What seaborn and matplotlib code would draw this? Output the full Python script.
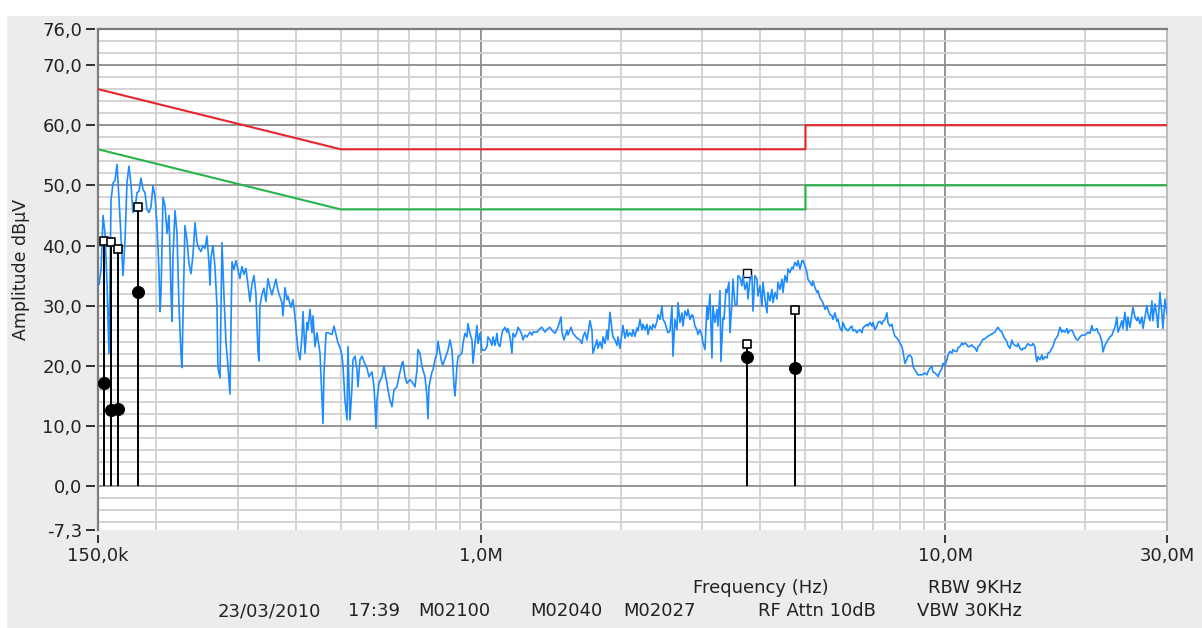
import numpy as np
import matplotlib
matplotlib.use("Agg")
import matplotlib.pyplot as plt
import matplotlib.ticker as mticker
from matplotlib.patches import Rectangle
import seaborn as sns

# Scan trace (frequency in kHz, level in dBuV)
trace_khz_low = [
    150.7, 152.3, 153.8, 155.3, 156.8, 158.4, 160.0, 161.6, 163.2, 164.8,
    166.4, 168.1, 169.8, 171.5, 173.2, 174.9, 176.7, 178.4, 180.2, 182.0,
    183.8, 185.6, 187.5, 189.3, 191.2, 193.1, 195.1, 197.0, 199.0, 200.9,
    202.9, 204.0, 205.0, 207.0, 209.1, 211.2, 213.3, 215.4, 216.5, 217.5,
    219.7, 221.9, 224.1, 226.3, 227.4, 228.6, 230.8, 233.1, 235.5, 237.8,
    240.2, 242.6, 245.0, 247.4, 249.9, 252.4, 254.9, 257.4, 260.0, 261.3,
    262.6, 265.2, 267.8, 270.5, 271.8, 274.6, 277.3, 280.1, 282.8, 285.6,
    288.5, 291.4, 294.2, 297.2, 300.1, 303.1, 306.1, 309.2, 312.2, 315.4,
    318.5, 321.7, 324.9, 328.1, 331.4, 333.0, 334.7, 338.0, 341.4, 344.8,
    348.2, 351.7, 355.1,
    362.3, 366.0, 373.3, 375.1, 378.9, 382.6, 384.5, 390.3, 394.2, 398.1,
    402.1, 404.2, 408.2, 412.3, 414.3, 418.5, 422.6, 424.7, 429.0, 433.2,
    435.4, 439.7, 444.1, 450.8, 455.3, 457.5, 459.8, 464.4, 469.0, 478.4,
    483.1, 488.0, 492.8, 497.7, 502.7, 505.2, 510.2, 515.3, 517.8, 523.0,
    528.2, 530.8, 536.1, 541.4, 544.1, 549.5, 555.0, 560.5, 568.9, 574.6,
    583.2, 589.0, 591.9, 594.9, 597.8, 603.8, 612.8, 618.9, 628.2, 631.3,
    637.6, 644.0, 650.4, 660.1, 666.7, 676.7, 680.0, 686.8, 693.7, 704.0,
    714.6, 721.7, 728.9, 732.5, 739.8, 747.2, 750.9, 758.4, 765.9, 769.7,
    773.6, 785.1, 789.0, 796.9, 804.8, 808.8, 816.9, 825.0, 829.1, 845.7,
]
trace_db_low = [
    33.5, 36, 45, 42, 34, 22, 47.5, 50.4, 50.8, 53.5,
    48, 41.5, 35, 41, 50.5, 53.2, 50, 45.5, 46, 48.8,
    49, 51.2, 49.3, 48.8, 46, 45.5, 46.5, 49.9, 48.2, 43.5,
    36, 29, 32, 48, 46.6, 42, 45, 32, 27.4, 38,
    45.8, 42, 30, 22, 19.7, 28, 43.3, 41, 37, 35.3,
    38.5, 43.8, 40.5, 39.5, 39, 40, 39.5, 41.6, 37, 33.4,
    38, 40, 36.5, 30, 19.7, 18, 40.5, 31.5, 24, 20,
    15.3, 37.3, 36, 37.5, 36, 34.5, 36.5, 35.2, 36.2, 33.5,
    30.7, 33.5, 35, 32, 22.5, 20.8, 30, 31.8, 32.9, 30.7,
    34.5, 33, 31.8,
    34.4, 32.5, 30.5, 28.3, 33, 31, 31.6, 29.7, 31, 28.3,
    24.4, 22.7, 21, 24.9, 29, 22.1, 27.2, 26, 29.4, 25.5,
    28.3, 23.2, 25.5, 22.1, 14.3, 10.4, 18.8, 25.5, 25.5, 25.2,
    26.6, 25.2, 23.8, 23, 21.6, 19.9, 14.3, 11, 23.2, 11,
    16.5, 21, 21.6, 19.3, 16.5, 21, 21.6, 20.7, 19.6, 18.2,
    19, 16.5, 13.7, 9.6, 14.3, 17.1, 18.2, 19.9, 17.1, 16,
    14.3, 13.2, 16, 16.5, 18.2, 20.4, 20.7, 18.2, 17.1, 17.7,
    17.1, 16.5, 19.3, 22.7, 22.1, 19.9, 19.3, 18.2, 14.9, 11.2,
    16.5, 19, 19.3, 21, 22.1, 24.1, 22.1, 20.4, 20.2, 22.1,
]

trace_khz_mid = [
    850.0, 858.5, 867.0, 871.3, 875.7, 880.0, 888.8, 893.2, 911.1, 915.6,
    924.7, 933.9, 938.6, 947.9, 957.3, 962.1, 971.7, 981.4, 986.2, 996.1,
    1006.0, 1021.1, 1031.2, 1036.3, 1046.7, 1057.1, 1062.3, 1072.9, 1083.6, 1089.0,
    1099.8, 1110.8, 1116.3, 1127.4, 1138.7, 1144.3, 1155.7, 1167.2, 1173.0, 1184.7,
    1196.5, 1202.5, 1214.4, 1226.5, 1232.6, 1244.9, 1257.3, 1276.1, 1288.8, 1295.2,
    1321.2, 1341.0, 1354.3, 1374.6, 1395.3, 1409.2, 1423.2, 1444.5, 1466.2, 1488.1,
    1495.5, 1510.4, 1533.1, 1540.7, 1563.7, 1579.3, 1603.0, 1618.9, 1635.1, 1651.3,
    1659.5, 1676.1, 1692.8, 1701.2, 1718.1, 1735.2, 1743.9, 1761.2, 1778.8, 1787.7,
    1805.5, 1823.5, 1832.5, 1850.8, 1869.2, 1878.5, 1897.2, 1916.1, 1925.6, 1944.8,
    1964.2, 1974.0, 1993.6, 2013.5, 2023.5,
    2043.6, 2064.0, 2074.2, 2094.9, 2115.8, 2126.3, 2147.5, 2168.9, 2179.6, 2201.3,
    2223.2, 2234.3, 2256.5, 2279.0, 2290.4, 2313.2, 2336.3, 2347.8, 2371.2, 2394.8,
    2406.7, 2430.7, 2454.9, 2467.1, 2491.7, 2516.5, 2529.0, 2554.2, 2579.6, 2592.5,
    2618.3, 2644.4, 2657.5, 2684.0, 2710.7, 2724.2, 2751.3, 2778.7, 2792.5, 2820.3,
    2848.4, 2862.5, 2891.0, 2919.9, 2934.4, 2963.6, 2993.1, 3008.0, 3038.0, 3068.2,
    3083.5, 3114.2, 3145.2, 3160.8, 3192.3, 3224.1, 3240.1, 3272.4, 3288.6, 3321.4,
    3337.9, 3371.2, 3387.9, 3421.7, 3438.7, 3472.9, 3490.2, 3524.9, 3560.0, 3577.7,
    3613.4, 3649.4, 3667.4, 3704.0, 3740.9, 3759.6, 3797.0, 3834.9, 3853.9, 3892.3,
    3931.1, 3950.6, 3990.0, 4029.7, 4049.7, 4090.1, 4130.8, 4151.3, 4192.7, 4234.4,
    4255.5, 4297.9, 4340.7, 4362.2, 4405.6, 4449.5, 4471.6, 4516.2, 4561.2, 4583.8,
    4629.5, 4675.6, 4698.8, 4745.6, 4792.9, 4816.8,
]
trace_db_mid = [
    22.6, 24.3, 22.6, 19.9, 16.6, 15, 19.9, 21.5, 22.1, 23.7,
    25.4, 24.8, 27, 25.4, 24.3, 20.4, 23.7, 26.7, 23.7, 25.4,
    22.6, 22.6, 23.2, 24.8, 24.3, 23.4, 24.8, 23.4, 25.4, 23.7,
    23.2, 25.4, 25.9, 26.4, 25.6, 26.2, 24.8, 22.1, 25.4, 24.8,
    25.6, 26.4, 25.9, 25.1, 24.3, 25.1, 24.8, 25.6, 25.1, 25.6,
    25.6, 26.2, 26.4, 25.6, 26.2, 26.4, 25.9, 25.4, 26.4, 28.1,
    25.6, 24.3, 25.9, 25.1, 26.4, 25.4, 24.8, 24.5, 24.3, 23.7,
    24.8, 25.6, 24.3, 25.4, 27.5, 25.9, 22.1, 23.2, 24.3, 22.9,
    24, 22.9, 24.8, 23.7, 25.9, 24.3, 28.9, 25.9, 24.8, 24.3,
    23.4, 24.8, 22.9, 25.4, 26.7,
    24.6, 26, 24.9, 25.5, 24.9, 26, 24.9, 26.3, 25.8, 27.7,
    26, 26.9, 26, 26.9, 25.2, 26.6, 26, 26.9, 26.3, 27.4,
    28.5, 27.7, 29.9, 27.7, 27.2, 26, 25.5, 25.8, 29.9, 21.6,
    27.7, 26, 30.5, 27.2, 28.8, 26.6, 29.1, 28.3, 29.4, 27.7,
    28.5, 28.3, 26.6, 26, 25.2, 26, 24.9, 23.8, 22.7, 29.9,
    27.7, 31.9, 21.3, 29.9, 27.2, 29.4, 26.6, 32.5, 20.7, 28,
    27.7, 32.7, 32.2, 33.9, 25.5, 30.5, 34.4, 30.2, 30.2, 35,
    34.7, 33.3, 35, 32.7, 33.9, 31.1, 34.4, 35, 29.1, 35,
    34.4, 31.6, 33.3, 29.9, 33.9, 31.1, 28.8, 32.2, 30.8, 32.7,
    30.5, 32.2, 31.1, 33.9, 32.7, 34.4, 32.2, 35, 33.9, 36.1,
    35.5, 36.4, 36.1, 37.2, 36.6, 37.5,
]

trace_khz_high = [
    4864.7, 4913.2, 4937.6, 4986.8, 5036.5, 5061.5, 5111.9, 5162.8, 5188.5, 5240.1,
    5292.4, 5318.6, 5371.6, 5425.1, 5452.1, 5506.4, 5561.2, 5588.8, 5644.5, 5700.8,
    5729.1, 5786.1, 5843.7, 5872.8, 5931.3, 5990.4, 6020.1, 6080.0, 6140.6, 6171.3,
    6232.8, 6294.8, 6326.1, 6389.2, 6452.8, 6484.9, 6549.5, 6614.7, 6647.5, 6713.7,
    6780.6, 6814.3, 6882.2, 6950.7, 6985.3, 7054.8, 7125.1, 7160.4, 7231.8, 7303.8,
    7340.1, 7413.2, 7487.0, 7524.3, 7599.2, 7674.9, 7713.0, 7789.8, 7867.4, 7906.5,
    7985.3, 8064.7, 8104.8, 8185.6, 8267.0, 8308.1, 8390.9, 8474.5, 8516.5, 8601.4,
    8687.1, 8730.3, 8904.9, 9038.4, 9128.5, 9173.8, 9265.1, 9357.4, 9403.9, 9497.6,
    9592.4, 9640.0, 9736.0, 9833.0, 9881.8, 9980.2, 10079, 10130, 10231, 10333,
    10384, 10488, 10592, 10645, 10751, 10858, 10912, 11020, 11130, 11185,
    11297, 11409, 11466, 11580, 11696, 11754, 11871, 11989, 12049,
    12169, 12290, 12474, 12661, 12787, 12914, 12979, 13108, 13239, 13305,
    13437, 13571, 13638, 13774, 13911, 13980, 14120, 14260, 14331, 14474,
    14618, 14691, 14837, 14985, 15059, 15209, 15361, 15437, 15591, 15668,
    15746, 15825, 15982, 16141, 16221, 16383, 16546, 16628, 16794, 16961,
    17045, 17215, 17386, 17473, 17647, 17822, 17911, 18089, 18270, 18360,
    18543, 18728, 18821, 19009, 19198, 19293, 19485, 19679, 19777, 19974,
    20173, 20273, 20475, 20679, 20782, 20989, 21198, 21305, 21517, 21732,
    21839, 22057, 22277, 22387, 22610, 22836, 22949, 23178, 23408, 23525,
    23759, 23996, 24115, 24355, 24598, 24720, 24966, 25215, 25340, 25592,
    25848, 25976, 26234, 26496, 26627, 26892, 27160, 27294, 27566, 27840,
    27978, 28257, 28539, 28680, 28966, 29255, 29400, 29693, 30000,
]
trace_db_high = [
    36.1, 37.5, 37.5, 36.6, 35.5, 34.4, 33.9, 33.3, 34.1, 33,
    32.2, 32.5, 31.3, 30.8, 30.5, 29.4, 29.9, 29.4, 28.5, 28.3,
    27.7, 28.8, 27.4, 27.7, 26.3, 25.8, 27.2, 26.3, 26, 25.8,
    26.3, 26.6, 25.8, 26, 25.5, 25.8, 26, 25.5, 26.3, 26.6,
    26.9, 26.6, 27.2, 26.6, 27.2, 26, 26.6, 27.2, 27.4, 26.9,
    27.4, 27.7, 28.8, 27.2, 26.6, 26.9, 26, 24.9, 24.6, 24.4,
    23.8, 23.2, 22.4, 20.4, 21.1, 21.6, 21.8, 21.3, 19.9, 19.3,
    18.8, 18.5, 18.5, 18.8, 18.5, 19, 19.6, 19.9, 19, 18.8,
    18.5, 18.2, 19, 19.6, 20.4, 20.1, 21, 21.8, 22.4, 22.1,
    22.7, 22.4, 22.4, 23, 23.2, 23.8, 23.5, 23.8, 23.5, 23.2,
    23.2, 23.5, 23.2, 23, 22.4, 23.2, 23.5, 24.1, 24.4,
    24.5, 24.8, 25.1, 25.4, 25.6, 26.2, 26.4, 25.9, 25.6, 25.1,
    24.5, 24, 23.4, 22.9, 24.3, 23.7, 23.4, 23.2, 23.7, 22.9,
    22.6, 22.9, 22.9, 23.4, 23.7, 23.4, 23.4, 23.7, 23.2, 21.5,
    20.7, 21.5, 21, 21.8, 21, 21.5, 21.3, 22.1, 22.3, 22.9,
    23.2, 24.3, 24.8, 25.1, 26.4, 25.6, 25.9, 25.6, 26.2, 25.4,
    25.9, 25.9, 25.6, 24.8, 24.3, 24.3, 24.8, 25.1, 25.1, 25.1,
    25.4, 25.6, 25.4, 26.7, 25.9, 25.9, 26.2, 25.6, 25.1, 24,
    22.3, 23.4, 24, 24.3, 24.8, 25.1, 25.6, 26.4, 28.1, 25.6,
    26.4, 27.5, 26.2, 28.9, 25.9, 28.1, 26.4, 28.6, 29.7, 28.1,
    27.5, 28.1, 27, 28.1, 26.2, 28.1, 30, 28.6, 27.5, 30.8,
    27.5, 30.3, 28.1, 26.4, 32.2, 28.6, 26.2, 31.1, 28.6,
]

# EN 55022 class B limit lines
limit_mhz = [0.15, 0.5, 5.0, 5.0, 30.0]
qp_limit_db = [66, 56, 56, 60, 60]
avg_limit_db = [56, 46, 46, 50, 50]

# Final measurement markers
marker_mhz = [0.1545, 0.1598, 0.1656, 0.1826, 3.735, 4.753]
marker_qp_db = [40.8, 40.6, 39.4, 46.4, 23.6, 29.2]
marker_avg_db = [17.1, 12.6, 12.9, 32.3, 21.4, 19.7]
peak_mark_mhz = [3.735]
peak_mark_db = [35.4]

ytick_vals = [-7.3, 0, 10, 20, 30, 40, 50, 60, 70, 76]
ytick_text = ["-7,3", "0,0", "10,0", "20,0", "30,0", "40,0", "50,0", "60,0", "70,0", "76,0"]
xtick_vals = [0.15, 1.0, 10.0, 30.0]
xtick_text = ["150,0k", "1,0M", "10,0M", "30,0M"]

sns.set_style("white")
plt.rcParams["font.family"] = ["DejaVu Sans"]

W, H = 1202, 628
fig = plt.figure(figsize=(W / 100, H / 100), dpi=100, facecolor="#ececec")
fig.patches.append(Rectangle((0, 1 - 16 / H), 1, 16 / H, transform=fig.transFigure,
                             facecolor="white", edgecolor="none", zorder=-5))
fig.patches.append(Rectangle((0, 0), 7 / W, 1, transform=fig.transFigure,
                             facecolor="white", edgecolor="none", zorder=-5))
ax = fig.add_axes([98 / W, 1 - 530 / H, 1069 / W, 501 / H])
ax.set_facecolor("white")

trace_khz = np.array(trace_khz_low + trace_khz_mid + trace_khz_high)
trace_db = np.array(trace_db_low + trace_db_mid + trace_db_high)

sns.lineplot(x=limit_mhz, y=qp_limit_db, ax=ax, color="#e8242c", lw=1.5,
             sort=False, estimator=None, zorder=3)
sns.lineplot(x=limit_mhz, y=avg_limit_db, ax=ax, color="#28b44a", lw=1.5,
             sort=False, estimator=None, zorder=3)
sns.scatterplot(x=peak_mark_mhz, y=peak_mark_db, ax=ax, marker="s", s=36,
                facecolor="white", edgecolor="black", linewidth=1.0, zorder=3)
sns.lineplot(x=trace_khz / 1000, y=trace_db, ax=ax, color="#1e8cff", lw=1.2,
             sort=False, estimator=None, zorder=4)

ax.vlines(marker_mhz, 0, marker_qp_db, color="black", lw=1.4, zorder=5)
sns.scatterplot(x=marker_mhz, y=marker_qp_db, ax=ax, marker="s", s=40,
                facecolor="white", edgecolor="black", linewidth=1.2, zorder=6)
sns.scatterplot(x=marker_mhz, y=marker_avg_db, ax=ax, marker="o", s=75,
                color="black", edgecolor="black", zorder=6)

ax.set_xscale("log")
ax.set_xlim(0.15, 30)
ax.set_ylim(-7.3, 76)

ax.set_xticks(xtick_vals)
ax.set_xticklabels(xtick_text)
ax.xaxis.set_minor_locator(mticker.LogLocator(base=10, subs=np.arange(2, 10), numticks=20))
ax.xaxis.set_minor_formatter(mticker.NullFormatter())
ax.set_yticks(ytick_vals)
ax.set_yticklabels(ytick_text)
ax.yaxis.set_minor_locator(mticker.MultipleLocator(2))

ax.tick_params(axis="both", which="both", length=0, labelsize=13, labelcolor="#222222")
ax.tick_params(axis="y", which="major", pad=11.5)
ax.tick_params(axis="x", which="major", pad=12)

# small detached tick dashes like the analyser screen draws them
ax.hlines(ytick_vals, -0.0115, -0.003, transform=ax.get_yaxis_transform(),
          color="#222222", lw=1.3, clip_on=False, zorder=7)
ax.vlines(xtick_vals, -0.01, -0.026, transform=ax.get_xaxis_transform(),
          color="#222222", lw=1.3, clip_on=False, zorder=7)

ax.set_axisbelow(True)
ax.grid(True, which="minor", color="#d0d0d0", lw=1.3)
ax.grid(True, which="major", color="#8c8c8c", lw=1.3)
for line, val in zip(ax.yaxis.get_gridlines(), ytick_vals):
    if val in (-7.3, 76):
        line.set_visible(False)
for line, val in zip(ax.xaxis.get_gridlines(), xtick_vals):
    if val in (0.15, 30.0):
        line.set_visible(False)

for side in ("left", "top"):
    ax.spines[side].set_color("#7c7c7c")
    ax.spines[side].set_linewidth(1.6)
ax.spines["right"].set_color("#b8b8b8")
ax.spines["right"].set_linewidth(1.3)
ax.spines["bottom"].set_visible(False)

ax.set_xlabel("")
ax.set_ylabel("Amplitude dBµV", fontsize=12.5, color="#222222")
ax.yaxis.set_label_coords(-0.064, 0.52)

def put(x, y, s):
    fig.text(x / W, 1 - y / H, s, fontsize=13, color="#222222", ha="left", va="center")

put(693, 588, "Frequency (Hz)")
put(928, 588, "RBW 9KHz")
put(218, 611, "23/03/2010")
put(348, 611, "17:39")
put(418, 611, "M02100")
put(530, 611, "M02040")
put(623, 611, "M02027")
put(758, 611, "RF Attn 10dB")
put(917, 611, "VBW 30KHz")

fig.savefig("out.png", dpi=100, facecolor=fig.get_facecolor())
